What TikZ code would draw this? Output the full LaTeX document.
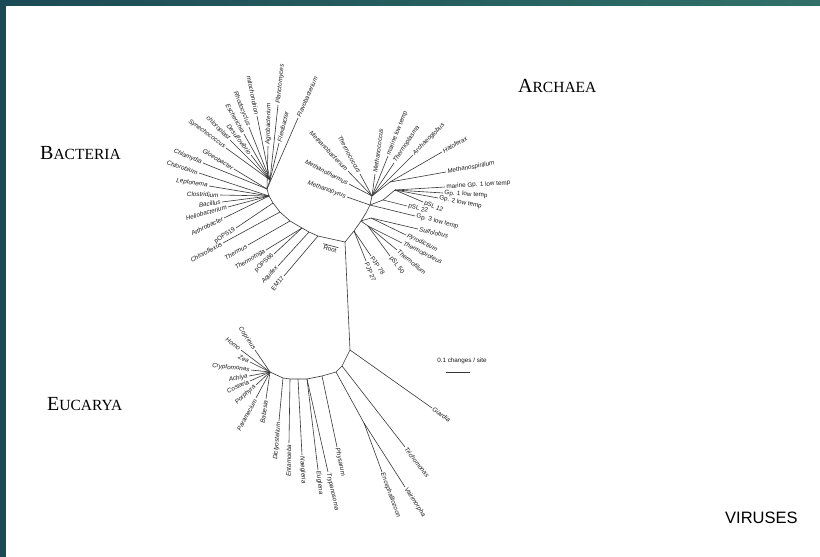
\documentclass[tikz,border=0pt]{standalone}
\usepackage{fontspec}
\setmainfont{Liberation Serif}
\setsansfont{Liberation Sans}
\usetikzlibrary{positioning}

\definecolor{frameDark}{RGB}{27, 74, 85}
\definecolor{frameLight}{RGB}{48, 112, 104}
\definecolor{treeLine}{RGB}{55, 55, 55}
\definecolor{treeText}{RGB}{25, 25, 25}

\newcommand{\leaffont}{\sffamily\fontsize{6.3}{8}\selectfont}

\begin{document}
\begin{tikzpicture}[
    x=1pt, y=-1pt,
    branch/.style={
        draw=treeLine,
        line width=0.6pt
    },
    ll/.style={
        pos=1, sloped, anchor=east,
        inner sep=1.2pt,
        text=treeText,
        font=\leaffont\itshape
    },
    lr/.style={
        pos=1, sloped, anchor=west,
        inner sep=1.2pt,
        text=treeText,
        font=\leaffont\itshape
    },
    up/.style={font=\leaffont},
    domainlabel/.style={
        anchor=base west,
        inner sep=0pt,
        text=black,
        font=\rmfamily
    }
]

\useasboundingbox (0,0) rectangle (820,557);
\fill[white] (0,0) rectangle (820,557);
\fill[frameDark] (0,0) rectangle (6,557);
\shade[left color=frameDark, right color=frameLight] (0,0) rectangle (820,5);

% ================= DOMAIN LABELS =================
\node[domainlabel] (bacteria) at (40,159) {\fontsize{20}{20}\selectfont B\fontsize{15.5}{20}\selectfont ACTERIA};
\node[domainlabel] (archaea) at (518,92) {\fontsize{20}{20}\selectfont A\fontsize{15.5}{20}\selectfont RCHAEA};
\node[domainlabel] (eucarya) at (47,410) {\fontsize{20}{20}\selectfont E\fontsize{15.5}{20}\selectfont UCARYA};
\node[domainlabel, font=\sffamily\fontsize{16.5}{18}\selectfont] (viruses) at (725,523) {VIRUSES};

% ================= BACTERIA =================
\coordinate (root) at (345,242);
\coordinate (b1) at (318,236);
\coordinate (b12) at (309,232);
\coordinate (b2) at (302,228);
\coordinate (b3) at (290,221);
\coordinate (b4) at (280,212);
\coordinate (b5) at (273,203);
\coordinate (bc) at (269,196);
\coordinate (bh) at (267,189);
\coordinate (bu) at (270,180);

\draw[branch] (root) -- (b1) -- (b12) -- (b2) -- (b3) -- (b4) -- (b5) -- (bc) -- (bh) -- (bu);

\coordinate (em17) at (284,276);
\coordinate (aquif) at (278,266);
\coordinate (pops66) at (274,254);
\coordinate (thtoga) at (266,250);
\coordinate (thermus) at (248,245);
\coordinate (chlflex) at (223,243);
\coordinate (pops19) at (236,228);
\coordinate (arthro) at (224,218);
\coordinate (helio) at (228,207);
\coordinate (bacil) at (222,202);
\coordinate (clostr) at (220,195);
\coordinate (lepto) at (209,186);
\coordinate (chlorob) at (199,173);
\coordinate (chlamy) at (203,163);
\coordinate (gloeo) at (234,169);
\coordinate (synecho) at (226,148);
\coordinate (chloro) at (230,140);
\coordinate (desulf) at (251,155);
\coordinate (esch) at (244,134);
\coordinate (rhodo) at (249,127);
\coordinate (mito) at (257,116);
\coordinate (agro) at (268,146);
\coordinate (flexi) at (279,143);
\coordinate (planc) at (278,105);
\coordinate (flavo) at (298,118);

\draw[branch] (b1) -- (em17) node[ll, up] (em17-l) {EM17};
\draw[branch] (b12) -- (aquif) node[ll] (aquif-l) {Aquifex};
\draw[branch] (b2) -- (pops66) node[ll, up] (pops66-l) {pOPS66};
\draw[branch] (b2) -- (thtoga) node[ll] (thtoga-l) {Thermotoga};
\draw[branch] (b3) -- (thermus) node[ll] (thermus-l) {Thermus};
\draw[branch] (b4) -- (chlflex) node[ll] (chlflex-l) {Chloroflexus};
\draw[branch] (b5) -- (pops19) node[ll, up] (pops19-l) {pOPS19};
\draw[branch] (bc) -- (arthro) node[ll] (arthro-l) {Arthrobacter};
\draw[branch] (bc) -- (helio) node[ll] (helio-l) {Heliobacterium};
\draw[branch] (bc) -- (bacil) node[ll] (bacil-l) {Bacillus};
\draw[branch] (bc) -- (clostr) node[ll] (clostr-l) {Clostridium};
\draw[branch] (bc) -- (lepto) node[ll] (lepto-l) {Leptonema};
\draw[branch] (bc) -- (chlorob) node[ll] (chlorob-l) {Chlorobium};
\draw[branch] (bh) -- (chlamy) node[ll] (chlamy-l) {Chlamydia};
\draw[branch] (bh) -- (gloeo) node[ll] (gloeo-l) {Gloeobacter};
\draw[branch] (bu) -- (synecho) node[ll] (synecho-l) {Synechococcus};
\draw[branch] (bu) -- (chloro) node[ll] (chloro-l) {chloroplast};
\draw[branch] (bu) -- (desulf) node[ll] (desulf-l) {Desulfovibrio};
\draw[branch] (bu) -- (esch) node[ll] (esch-l) {Escherichia};
\draw[branch] (bu) -- (rhodo) node[ll] (rhodo-l) {Rhodocyclus};
\draw[branch] (bu) -- (mito) node[ll] (mito-l) {mitochondrion};
\draw[branch] (bh) -- (agro) node[lr] (agro-l) {Agrobacterium};
\draw[branch] (bu) -- (flexi) node[lr] (flexi-l) {Flexibacter};
\draw[branch] (bu) -- (planc) node[lr] (planc-l) {Planctomyces};
\draw[branch] (bh) -- (flavo) node[lr] (flavo-l) {Flavobacterium};

% root marker
\node[up, text=treeText, rotate=-15, inner sep=1pt] (rootlab) at (330,249) {Root};
\draw[branch] (rootlab.north west) -- (rootlab.north east);

% ================= ARCHAEA =================
\coordinate (a0) at (354,231);
\coordinate (a1) at (361,221);
\coordinate (a2) at (366,213);
\coordinate (ah) at (370,205);
\coordinate (eu) at (372,196);
\coordinate (hm) at (390,182);
\coordinate (lt) at (383,200);
\coordinate (lt1) at (395,190);
\coordinate (cr) at (371,218);
\coordinate (cr2) at (368,226);

\draw[branch] (root) -- (a0) -- (a1) -- (a2) -- (ah) -- (eu) -- (hm);
\draw[branch] (ah) -- (lt) -- (lt1);
\draw[branch] (a1) -- (cr);
\draw[branch] (a1) -- (cr2);

\coordinate (mpyrus) at (347,197);
\coordinate (mtherm) at (349,184);
\coordinate (mbact) at (348,171);
\coordinate (tcoccus) at (360,174);
\coordinate (mcoccus) at (375,174);
\coordinate (marlow) at (388,156);
\coordinate (tplasma) at (394,163);
\coordinate (aglobus) at (413,155);
\coordinate (halo) at (442,152);
\coordinate (mspir) at (446,172);
\coordinate (mgp1) at (445,187);
\coordinate (gp1) at (443,193);
\coordinate (gp2) at (438,198);
\coordinate (psl12) at (423,202);
\coordinate (psl22) at (407,206);
\coordinate (gp3) at (415,216);
\coordinate (sulfo) at (418,229);
\coordinate (pyrod) at (406,235);
\coordinate (tprot) at (402,243);
\coordinate (tfil) at (397,250);
\coordinate (psl50) at (390,256);
\coordinate (pjp78) at (371,256);
\coordinate (pjp27) at (366,261);

\draw[branch] (ah) -- (mpyrus) node[ll] (mpyrus-l) {Methanopyrus};
\draw[branch] (eu) -- (mtherm) node[ll] (mtherm-l) {Methanothermus};
\draw[branch] (eu) -- (mbact) node[ll] (mbact-l) {Methanobacterium};
\draw[branch] (eu) -- (tcoccus) node[ll] (tcoccus-l) {Thermococcus};
\draw[branch] (eu) -- (mcoccus) node[lr] (mcoccus-l) {Methanococcus};
\draw[branch] (eu) -- (marlow) node[lr, up] (marlow-l) {marine low temp};
\draw[branch] (eu) -- (tplasma) node[lr] (tplasma-l) {Thermoplasma};
\draw[branch] (eu) -- (aglobus) node[lr] (aglobus-l) {Archaeoglobus};
\draw[branch] (hm) -- (halo) node[lr] (halo-l) {Haloferax};
\draw[branch] (hm) -- (mspir) node[lr] (mspir-l) {Methanospirillum};
\draw[branch] (lt1) -- (mgp1) node[lr, up] (mgp1-l) {marine Gp. 1 low temp};
\draw[branch] (lt1) -- (gp1) node[lr, up] (gp1-l) {Gp. 1 low temp};
\draw[branch] (lt1) -- (gp2) node[lr, up] (gp2-l) {Gp. 2 low temp};
\draw[branch] (lt1) -- (psl12) node[lr, up] (psl12-l) {pSL 12};
\draw[branch] (lt) -- (psl22) node[lr, up] (psl22-l) {pSL 22};
\draw[branch] (ah) -- (gp3) node[lr, up] (gp3-l) {Gp. 3 low temp};
\draw[branch] (cr) -- (sulfo) node[lr] (sulfo-l) {Sulfolobus};
\draw[branch] (cr) -- (pyrod) node[lr] (pyrod-l) {Pyrodictium};
\draw[branch] (cr2) -- (tprot) node[lr] (tprot-l) {Thermoproteus};
\draw[branch] (cr2) -- (tfil) node[lr] (tfil-l) {Thermofilum};
\draw[branch] (cr2) -- (psl50) node[lr, up] (psl50-l) {pSL 50};
\draw[branch] (a0) -- (pjp78) node[lr, up] (pjp78-l) {PJP 78};
\draw[branch] (a0) -- (pjp27) node[lr, up] (pjp27-l) {PJP 27};

% ================= EUCARYA =================
\coordinate (e0) at (350,350);
\coordinate (e1) at (342,366);
\coordinate (e2) at (336,372);
\coordinate (e3) at (322,376);
\coordinate (te) at (307,379);
\coordinate (e4) at (298,379);
\coordinate (e5) at (290,379);
\coordinate (e6) at (283,378);
\coordinate (ch) at (270,372);
\coordinate (mi) at (364,423);

\draw[branch] (root) -- (e0) -- (e1) -- (e2) -- (e3) -- (te) -- (e4) -- (e5) -- (e6) -- (ch);
\draw[branch] (e2) -- (mi);

\coordinate (giard) at (432,408);
\coordinate (trich) at (405,447);
\coordinate (enceph) at (382,472);
\coordinate (vairi) at (405,487);
\coordinate (physa) at (337,447);
\coordinate (trypa) at (328,472);
\coordinate (eugle) at (318,470);
\coordinate (naegl) at (302,455);
\coordinate (entam) at (289,443);
\coordinate (dicty) at (279,421);
\coordinate (copri) at (255,350);
\coordinate (homo) at (241,350);
\coordinate (zea) at (250,362);
\coordinate (crypto) at (251,370);
\coordinate (achlya) at (249,376);
\coordinate (costa) at (250,381);
\coordinate (porph) at (256,385);
\coordinate (param) at (256,398);
\coordinate (babes) at (266,399);

\draw[branch] (e0) -- (giard) node[lr] (giard-l) {Giardia};
\draw[branch] (e1) -- (trich) node[lr] (trich-l) {Trichomonas};
\draw[branch] (mi) -- (enceph) node[lr] (enceph-l) {Encephalitozoon};
\draw[branch] (mi) -- (vairi) node[lr] (vairi-l) {Vairimorpha};
\draw[branch] (e3) -- (physa) node[lr] (physa-l) {Physarum};
\draw[branch] (te) -- (trypa) node[lr] (trypa-l) {Trypanosoma};
\draw[branch] (te) -- (eugle) node[lr] (eugle-l) {Euglena};
\draw[branch] (e4) -- (naegl) node[lr] (naegl-l) {Naegleria};
\draw[branch] (e5) -- (entam) node[ll] (entam-l) {Entamoeba};
\draw[branch] (e6) -- (dicty) node[ll] (dicty-l) {Dictyostelium};
\draw[branch] (ch) -- (copri) node[ll] (copri-l) {Coprinus};
\draw[branch] (ch) -- (homo) node[ll] (homo-l) {Homo};
\draw[branch] (ch) -- (zea) node[ll] (zea-l) {Zea};
\draw[branch] (ch) -- (crypto) node[ll] (crypto-l) {Cryptomonas};
\draw[branch] (ch) -- (achlya) node[ll] (achlya-l) {Achlya};
\draw[branch] (ch) -- (costa) node[ll] (costa-l) {Costaria};
\draw[branch] (ch) -- (porph) node[ll] (porph-l) {Porphyra};
\draw[branch] (ch) -- (param) node[ll] (param-l) {Paramecium};
\draw[branch] (ch) -- (babes) node[ll] (babes-l) {Babesia};

% ================= SCALE =================
\node[up, text=treeText] (scale) at (462,361) {0.1 changes / site};
\coordinate (sb1) at (446,372);
\coordinate (sb2) at (470,372);
\draw[branch] (sb1) -- (sb2);

\end{tikzpicture}
\end{document}
